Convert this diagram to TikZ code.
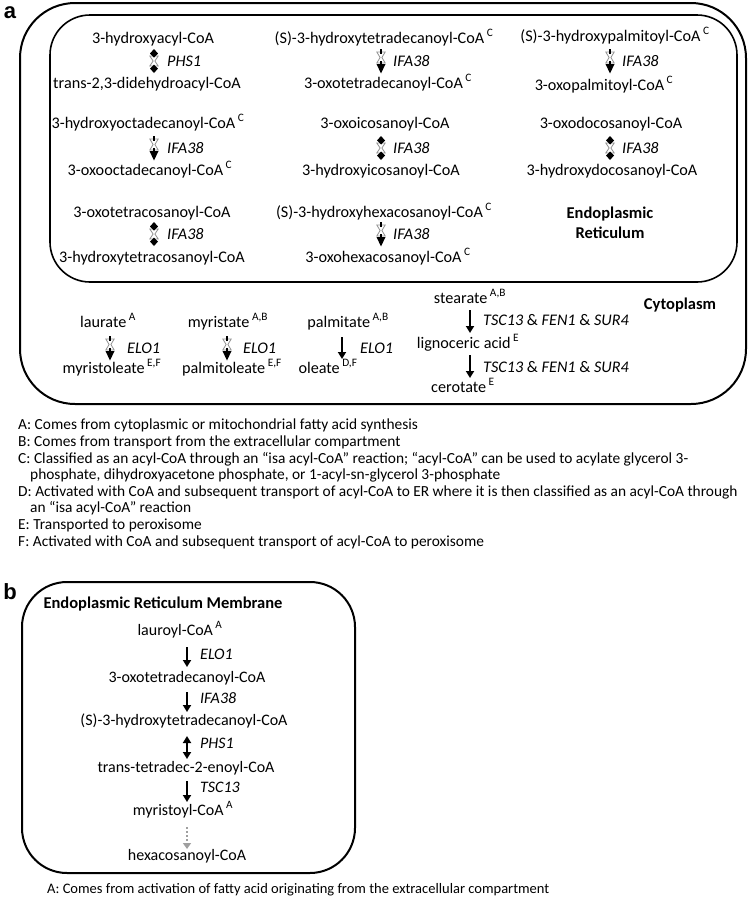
\documentclass[tikz,border=0pt]{standalone}
\usepackage{fontspec}
\setmainfont{Carlito}
\newfontfamily\panelfont{Liberation Sans}
\usetikzlibrary{arrows.meta}
\newcommand\supx[1]{\hspace{2.5pt}\textsuperscript{#1}}
\begin{document}
\begin{tikzpicture}[x=1pt,y=-1pt,
  txt/.style={inner sep=0pt, anchor=base, font=\fontsize{16.2}{18}\selectfont},
  txtb/.style={inner sep=0pt, anchor=base, font=\fontsize{16}{18}\selectfont},
  lbl/.style={inner sep=0pt, anchor=base west, font=\fontsize{16.2}{18}\selectfont\itshape},
  lblb/.style={inner sep=0pt, anchor=base west, font=\fontsize{16}{18}\selectfont\itshape},
  ttl/.style={inner sep=0pt, anchor=base, font=\fontsize{16.5}{20}\selectfont\bfseries, align=center},
  fn/.style={inner sep=0pt, anchor=base west, font=\fontsize{15.4}{16.7}\selectfont},
  fnb/.style={inner sep=0pt, anchor=base west, font=\fontsize{14.5}{16.7}\selectfont},
  panel/.style={inner sep=0pt, font=\fontsize{22}{24}\panelfont\bfseries},
  box/.style={draw, line width=2pt, rounded corners=#1},
  arr/.style={line width=2pt, -{Triangle[length=7pt,width=8pt]}},
  darr/.style={line width=2pt, {Triangle[length=7pt,width=8pt]}-{Triangle[length=7pt,width=8pt]}},
  dotarr/.style={line width=2pt, gray!75, dash pattern=on 2pt off 2pt, -{Triangle[length=6pt,width=8pt]}},
  revboth/.pic={
    \draw[gray!85, fill=white, line width=0.8pt] (-4.2,-5) -- (4.2,-5) -- (0.9,0) -- (4.2,5) -- (-4.2,5) -- (-0.9,0) -- cycle;
    \fill[black] (0,-12) -- (4,-7.5) -- (0,-3.5) -- (-4,-7.5) -- cycle;
    \fill[black] (0,12) -- (4,7.5) -- (0,3.5) -- (-4,7.5) -- cycle;
  },
  revdown/.pic={
    \draw[gray!85, fill=white, line width=0.8pt] (-4.2,-9) -- (4.2,-9) -- (0.9,-3.5) -- (4.2,2) -- (-4.2,2) -- (-0.9,-3.5) -- cycle;
    \fill[black] (-1,-12) rectangle (1,-7);
    \fill[black] (-1,-0.5) rectangle (1,4);
    \fill[black] (-4.5,3) -- (4.5,3) -- (0,12.5) -- cycle;
  }
]
\useasboundingbox (0,0) rectangle (750,900);

% ---------- panel a ----------
\node[panel] (pa) at (10,13) {a};
\draw[box=55pt] (20,3) rectangle (746,404);
\draw[box=40pt, line width=1.6pt] (50,15) rectangle (737,282);

% column 1
\node[txt] (c1r1t) at (153,43) {3-hydroxyacyl-CoA};
\pic at (154,61) {revboth};
\node[lbl] (c1r1l) at (167,66) {PHS1};
\node[txt] (c1r1b) at (147,88) {trans-2,3-didehydroacyl-CoA};

\node[txt] (c1r2t) at (148,128) {3-hydroxyoctadecanoyl-CoA\supx{C}};
\pic at (154,148) {revdown};
\node[lbl] (c1r2l) at (167,153) {IFA38};
\node[txt] (c1r2b) at (150,175) {3-oxooctadecanoyl-CoA\supx{C}};

\node[txt] (c1r3t) at (152,217) {3-oxotetracosanoyl-CoA};
\pic at (154,234) {revboth};
\node[lbl] (c1r3l) at (167,239) {IFA38};
\node[txt] (c1r3b) at (152,262) {3-hydroxytetracosanoyl-CoA};

% column 2
\node[txt] (c2r1t) at (384,43) {(S)-3-hydroxytetradecanoyl-CoA\supx{C}};
\pic at (381,61) {revdown};
\node[lbl] (c2r1l) at (393,66) {IFA38};
\node[txt] (c2r1b) at (388,88) {3-oxotetradecanoyl-CoA\supx{C}};

\node[txt] (c2r2t) at (385,128) {3-oxoicosanoyl-CoA};
\pic at (381,148) {revboth};
\node[lbl] (c2r2l) at (393,153) {IFA38};
\node[txt] (c2r2b) at (381,175) {3-hydroxyicosanoyl-CoA};

\node[txt] (c2r3t) at (384,217) {(S)-3-hydroxyhexacosanoyl-CoA\supx{C}};
\pic at (381,234) {revdown};
\node[lbl] (c2r3l) at (393,239) {IFA38};
\node[txt] (c2r3b) at (388,262) {3-oxohexacosanoyl-CoA\supx{C}};

% column 3
\node[txt] (c3r1t) at (615,41) {(S)-3-hydroxypalmitoyl-CoA\supx{C}};
\pic at (610,61) {revdown};
\node[lbl] (c3r1l) at (622,66) {IFA38};
\node[txt] (c3r1b) at (604,90) {3-oxopalmitoyl-CoA\supx{C}};

\node[txt] (c3r2t) at (611,128) {3-oxodocosanoyl-CoA};
\pic at (610,148) {revboth};
\node[lbl] (c3r2l) at (622,153) {IFA38};
\node[txt] (c3r2b) at (612,175) {3-hydroxydocosanoyl-CoA};

\node[ttl] (er) at (610,238) {Endoplasmic\\Reticulum};
\node[ttl] (cyto) at (680,309) {Cytoplasm};

% cytoplasm reactions
\node[txt] (lau) at (108,327) {laurate\supx{A}};
\pic at (110,348) {revdown};
\node[lbl] (lauE) at (127,353) {ELO1};
\node[txt] (myrl) at (112,373) {myristoleate\supx{E,F}};

\node[txt] (myr) at (228,327) {myristate\supx{A,B}};
\pic at (227,348) {revdown};
\node[lbl] (myrE) at (243,353) {ELO1};
\node[txt] (paml) at (232,373) {palmitoleate\supx{E,F}};

\node[txt] (pal) at (348,327) {palmitate\supx{A,B}};
\coordinate (palA) at (342,337);
\coordinate (palB) at (342,359);
\draw[arr] (palA) -- (palB);
\node[lbl] (palE) at (360,353) {ELO1};
\node[txt] (ole) at (328,373) {oleate\supx{D,F}};

\node[txt] (ste) at (470,303) {stearate\supx{A,B}};
\coordinate (steA) at (470,310);
\coordinate (steB) at (470,333);
\draw[arr] (steA) -- (steB);
\node[lbl] (steL) at (483,325) {TSC13 \upshape\&\itshape{} FEN1 \upshape\&\itshape{} SUR4};
\node[txt] (lig) at (468,348) {lignoceric acid\supx{E}};
\coordinate (ligA) at (470,355);
\coordinate (ligB) at (470,378);
\draw[arr] (ligA) -- (ligB);
\node[lbl] (ligL) at (483,372) {TSC13 \upshape\&\itshape{} FEN1 \upshape\&\itshape{} SUR4};
\node[txt] (cer) at (463,392) {cerotate\supx{E}};

% footnotes a
\node[fn] (fA) at (18,429) {A: Comes from cytoplasmic or mitochondrial fatty acid synthesis};
\node[fn] (fB) at (18,446) {B: Comes from transport from the extracellular compartment};
\node[fn] (fC) at (18,463) {C: Classified as an acyl-CoA through an “isa acyl-CoA” reaction; “acyl-CoA” can be used to acylate glycerol 3-};
\node[fn] (fC2) at (30,479) {phosphate, dihydroxyacetone phosphate, or 1-acyl-sn-glycerol 3-phosphate};
\node[fn] (fD) at (18,496) {D: Activated with CoA and subsequent transport of acyl-CoA to ER where it is then classified as an acyl-CoA through};
\node[fn] (fD2) at (30,512) {an “isa acyl-CoA” reaction};
\node[fn] (fE) at (18,529) {E: Transported to peroxisome};
\node[fn] (fF) at (18,546) {F: Activated with CoA and subsequent transport of acyl-CoA to peroxisome};

% ---------- panel b ----------
\node[panel] (pb) at (10,592) {b};
\draw[box=45pt] (22,582) rectangle (355,873);
\node[ttl] (erm) at (163,608) {Endoplasmic Reticulum Membrane};

\node[txtb] (b1) at (180,635) {lauroyl-CoA\supx{A}};
\coordinate (b1a) at (187,647);
\coordinate (b1b) at (187,667);
\draw[arr] (b1a) -- (b1b);
\node[lblb] (b1l) at (200,659) {ELO1};
\node[txtb] (b2) at (187,682) {3-oxotetradecanoyl-CoA};
\coordinate (b2a) at (187,692);
\coordinate (b2b) at (187,712);
\draw[arr] (b2a) -- (b2b);
\node[lblb] (b2l) at (200,703) {IFA38};
\node[txtb] (b3) at (184,725) {(S)-3-hydroxytetradecanoyl-CoA};
\coordinate (b3a) at (187,736);
\coordinate (b3b) at (187,759);
\draw[darr] (b3a) -- (b3b);
\node[lblb] (b3l) at (200,748) {PHS1};
\node[txtb] (b4) at (186,772) {trans-tetradec-2-enoyl-CoA};
\coordinate (b4a) at (187,781);
\coordinate (b4b) at (187,802);
\draw[arr] (b4a) -- (b4b);
\node[lblb] (b4l) at (200,792) {TSC13};
\node[txtb] (b5) at (183,815) {myristoyl-CoA\supx{A}};
\coordinate (b5a) at (187,827);
\coordinate (b5b) at (187,849);
\draw[dotarr] (b5a) -- (b5b);
\node[txtb] (b6) at (187,860) {hexacosanoyl-CoA};

\node[fnb] (fbA) at (47,893) {A: Comes from activation of fatty acid originating from the extracellular compartment};
\end{tikzpicture}
\end{document}
